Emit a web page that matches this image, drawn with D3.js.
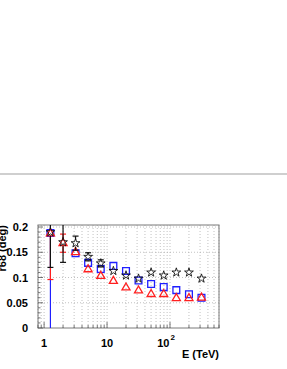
<!DOCTYPE html>
<html><head><meta charset="utf-8">
<script src="https://cdn.jsdelivr.net/npm/d3@7"></script>
<style>body{margin:0;background:#fff}svg{display:block}text{font-family:"Liberation Sans",Arial,sans-serif;font-weight:bold}</style>
</head><body>
<svg id="c" width="287" height="369"></svg>
<script>
// energies (TeV), bin centres
const energies = [1.26, 2.0, 3.16, 5.0, 7.94, 12.6, 20.0, 31.6, 50.1, 79.4, 126, 200, 316];
// black stars
const starVals = [0.190, 0.170, 0.168, 0.141, 0.128, 0.113, 0.104, 0.098, 0.110, 0.104, 0.110, 0.110, 0.098];
const starErrs = [0.070, 0.040, 0.014, 0.008, 0.007, 0.004, 0.004, 0.003, 0.003, 0.003, 0.003, 0.003, 0.003];
// blue squares
const squareVals = [0.188, null, 0.148, 0.129, 0.117, 0.123, 0.113, 0.094, 0.087, 0.081, 0.075, 0.067, 0.060];
const squareErrs = [0.190, 0, 0.006, 0.005, 0.004, 0.004, 0.003, 0.003, 0.003, 0.003, 0.003, 0.003, 0.003];
// red triangles (asymmetric first point)
const triVals = [0.187, 0.168, 0.150, 0.116, 0.103, 0.093, 0.080, 0.074, 0.067, 0.067, 0.059, 0.059, 0.060];
const triErrLo = [0.091, 0.018, 0.006, 0.004, 0.004, 0.004, 0.003, 0.003, 0.003, 0.003, 0.003, 0.003, 0.003];
const triErrHi = [0.002, 0.018, 0.006, 0.004, 0.004, 0.004, 0.003, 0.003, 0.003, 0.003, 0.003, 0.003, 0.003];
const yTicks = [0, 0.05, 0.1, 0.15, 0.2];
const yTickLabels = ["0", "0.05", "0.1", "0.15", "0.2"];
const xMajor = [1, 10, 100];

const svg = d3.select("#c");
const L = 38, R = 219, T = 225, B = 328;
const x = d3.scaleLog().domain([0.8, 600]).range([L, R]);
const y = d3.scaleLinear().domain([0, 0.204]).range([B, T]);

// separator line
svg.append("line").attr("x1", 0).attr("x2", 287).attr("y1", 174).attr("y2", 174)
  .attr("stroke", "#cfcfcf").attr("stroke-width", 2);

// minor x ticks
const xMinor = [];
for (let d = 0.1; d <= 100; d *= 10) for (let k = 1; k <= 9; k++) { const v = +(k * d).toPrecision(3); if (v >= 0.8 && v <= 600) xMinor.push(v); }
svg.append("clipPath").attr("id", "cp").append("rect").attr("x", L).attr("y", T).attr("width", R - L).attr("height", B - T);

const grid = svg.append("g").attr("stroke", "#a8a8a8").attr("stroke-width", 0.7).attr("stroke-dasharray", "1,2");
grid.selectAll(".gx").data(xMinor).join("line")
  .attr("x1", d => x(d)).attr("x2", d => x(d)).attr("y1", T).attr("y2", B);
grid.selectAll(".gy").data(yTicks.filter(v => v > 0)).join("line")
  .attr("x1", L).attr("x2", R).attr("y1", d => y(d)).attr("y2", d => y(d));

// frame
svg.append("rect").attr("x", L).attr("y", T).attr("width", R - L).attr("height", B - T)
  .attr("fill", "none").attr("stroke", "#7a7a7a").attr("stroke-width", 1);

// x ticks
const tk = svg.append("g").attr("stroke", "#555").attr("stroke-width", 0.8);
tk.selectAll(".tx").data(xMinor).join("line")
  .attr("x1", d => x(d)).attr("x2", d => x(d)).attr("y1", B).attr("y2", d => B - (xMajor.includes(d) ? 6 : 3));
// y ticks
const yMinor = d3.range(0, 0.2001, 0.01);
tk.selectAll(".ty").data(yMinor).join("line")
  .attr("x1", L).attr("x2", (d, i) => L + (i % 5 === 0 ? 5 : 2.5)).attr("y1", d => y(d)).attr("y2", d => y(d));

// y labels
svg.selectAll(".yl").data(yTicks).join("text")
  .attr("x", 28).attr("y", d => y(d) + 4).attr("text-anchor", "end").attr("font-size", 11).text((d, i) => yTickLabels[i]);
// x labels
svg.append("text").attr("x", x(1)).attr("y", 347).attr("text-anchor", "middle").attr("font-size", 11).text("1");
svg.append("text").attr("x", x(10)).attr("y", 347).attr("text-anchor", "middle").attr("font-size", 11).text("10");
const t2 = svg.append("text").attr("x", x(100) - 4).attr("y", 347).attr("text-anchor", "middle").attr("font-size", 11);
t2.append("tspan").text("10");
t2.append("tspan").attr("font-size", 8).attr("dy", -7).attr("dx", 1).text("2");
svg.append("text").attr("x", 219).attr("y", 358).attr("text-anchor", "end").attr("font-size", 11).text("E (TeV)");
svg.append("text").attr("transform", "translate(6,225) rotate(-90)").attr("text-anchor", "end").attr("font-size", 11).text("r68 (deg)");

const plot = svg.append("g").attr("clip-path", "url(#cp)");
const HALF = 3.5; // half marker size: error bars are drawn outside the marker only
function errBars(g, vals, lo, hi, color) {
  const pts = energies.map((e, i) => ({e, v: vals[i], lo: lo[i], hi: hi[i]})).filter(d => d.v !== null);
  const gg = g.append("g").attr("stroke", color).attr("stroke-width", 1.2);
  const low = pts.filter(d => y(d.v - d.lo) - y(d.v) > HALF);
  const high = pts.filter(d => y(d.v) - y(d.v + d.hi) > HALF);
  gg.selectAll(".vl").data(low).join("line")
    .attr("x1", d => x(d.e)).attr("x2", d => x(d.e)).attr("y1", d => y(d.v) + HALF).attr("y2", d => y(d.v - d.lo));
  gg.selectAll(".vh").data(high).join("line")
    .attr("x1", d => x(d.e)).attr("x2", d => x(d.e)).attr("y1", d => y(d.v) - HALF).attr("y2", d => y(d.v + d.hi));
  gg.selectAll(".c1").data(low).join("line")
    .attr("x1", d => x(d.e) - 3).attr("x2", d => x(d.e) + 3).attr("y1", d => y(d.v - d.lo)).attr("y2", d => y(d.v - d.lo));
  gg.selectAll(".c2").data(high).join("line")
    .attr("x1", d => x(d.e) - 3).attr("x2", d => x(d.e) + 3).attr("y1", d => y(d.v + d.hi)).attr("y2", d => y(d.v + d.hi));
  return pts;
}
const sq = errBars(plot, squareVals, squareErrs, squareErrs, "#1f1fff");
plot.selectAll(".sq").data(sq).join("path")
  .attr("d", d3.symbol(d3.symbolSquare, 46)).attr("transform", d => `translate(${x(d.e)},${y(d.v)})`)
  .attr("fill", "none").attr("stroke", "#1f1fff").attr("stroke-width", 1.3);
const tr = errBars(plot, triVals, triErrLo, triErrHi, "#ff1f1f");
plot.selectAll(".tr").data(tr).join("path")
  .attr("d", d3.symbol(d3.symbolTriangle, 28)).attr("transform", d => `translate(${x(d.e)},${y(d.v)})`)
  .attr("fill", "none").attr("stroke", "#ff1f1f").attr("stroke-width", 1.3);
const st = errBars(plot, starVals, starErrs, starErrs, "#111");
plot.selectAll(".st").data(st).join("path")
  .attr("d", d3.symbol(d3.symbolStar, 24)).attr("transform", d => `translate(${x(d.e)},${y(d.v)})`)
  .attr("fill", "none").attr("stroke", "#111").attr("stroke-width", 0.9);
</script>
</body></html>
